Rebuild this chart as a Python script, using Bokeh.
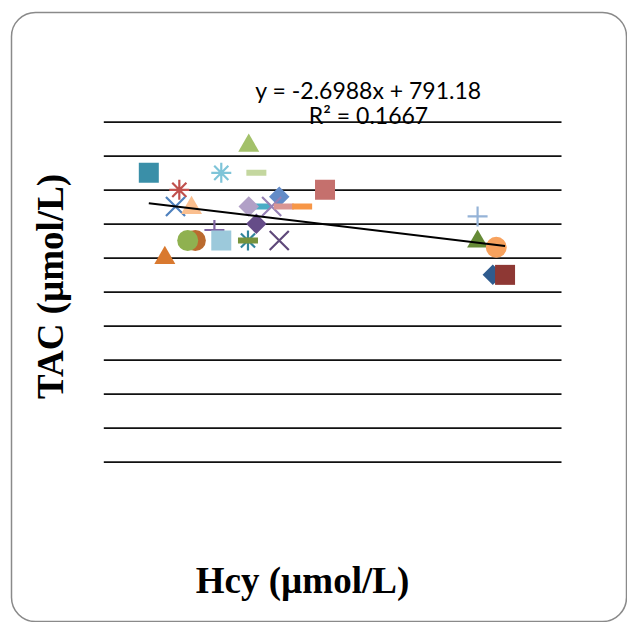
import math
from bokeh.plotting import figure
from bokeh.models import Range1d, Label, BoxAnnotation
from bokeh.embed import file_html
from bokeh.resources import INLINE

# ---- data (Hcy in umol/L, TAC in umol/L), one entry per plotted series ----
hcy = [24.0, 10.9, 20.4, 25.0, 14.9, 14.4, 16.5, 34.0, 28.0, 25.5,
       24.0, 27.0, 28.6, 31.0, 25.0, 19.5, 17.0, 16.0, 20.4, 23.9,
       23.9, 28.0, 13.0, 54.0, 54.0, 56.45, 56.0, 57.6]
tac = [931, 851, 851, 851, 801, 752, 748, 801, 781, 752,
       752, 752, 752, 752, 701, 683, 652, 652, 652, 652,
       652, 652, 601, 723, 649, 632, 551, 551]

# styles
markers = ["triangle", "square", "asterisk", "dash", "asterisk", "x", "triangle", "square", "diamond", "dash",
           "diamond", "x", "dash", "dash", "diamond", "cross", "circle", "circle", "square", "asterisk",
           "dash", "x", "triangle", "cross", "triangle", "circle", "diamond", "square"]
colors = ["#A3C16A", "#3A8FA8", "#7EC4D8", "#C4D79F", "#C0504D", "#4F81BD", "#FABF8F", "#C5706D", "#638CC8", "#4BACC6",
          "#B1A0C7", "#9580B5", "#D99694", "#F79646", "#654C88", "#8064A2", "#BA6A2E", "#8FB150", "#9CC9DB", "#31859C",
          "#77933C", "#604A7B", "#D9792F", "#95B3D7", "#658A36", "#F7A25E", "#2F5B8E", "#8E3834"]

slope = -2.6988
intercept = 791.18
r2 = 0.1667
x_min, x_max = 5, 65
grid_ticks = [0, 100, 200, 300, 400, 500, 600, 700, 800, 900, 1000]

# plot-area geometry (pixels in canvas) used to derive the data ranges of the full canvas
W, H = 627, 622
PA_L, PA_R, PA_T, PA_B = 103.3, 561.0, 121.7, 461.7
kx = (PA_R - PA_L) / (x_max - x_min)
ky = (PA_B - PA_T) / (grid_ticks[-1] - grid_ticks[0])
xs = x_min - PA_L / kx
ys_top = grid_ticks[-1] + PA_T / ky
p = figure(frame_width=W, frame_height=H,
           x_range=Range1d(xs, xs + W / kx), y_range=Range1d(ys_top - H / ky, ys_top),
           output_backend="svg", toolbar_location=None, min_border=0)
p.xaxis.visible = False
p.yaxis.visible = False
p.xgrid.visible = False
p.ygrid.visible = False
p.outline_line_color = None
p.background_fill_color = "white"
p.border_fill_color = "white"

# horizontal gridlines across the plot area
p.segment(x0=[x_min] * len(grid_ticks), x1=[x_max] * len(grid_ticks), y0=grid_ticks, y1=grid_ticks,
          line_color="#111111", line_width=1.7)

for xv, yv, m, c in zip(hcy, tac, markers, colors):
    if m == "dash":
        p.rect(x=[xv], y=[yv], width=20, height=6, width_units="screen", height_units="screen",
               fill_color=c, line_color=None)
    elif m == "diamond":
        p.scatter(x=[xv], y=[yv], marker="square", angle=math.pi / 4, size=14.5,
                  fill_color=c, line_color=None)
    elif m == "square":
        p.scatter(x=[xv], y=[yv], marker="square", size=20, fill_color=c, line_color=None)
    elif m == "circle":
        p.scatter(x=[xv], y=[yv], marker="circle", size=21, fill_color=c, line_color=None)
    elif m == "triangle":
        p.scatter(x=[xv], y=[yv], marker="triangle", size=21, fill_color=c, line_color=None)
    elif m == "x":
        p.scatter(x=[xv], y=[yv], marker="x", size=27, line_color=c, line_width=2.2)
    else:
        p.scatter(x=[xv], y=[yv], marker=m, size=20, line_color=c, line_width=2.2)

# linear trendline over the data range
x0, x1 = min(hcy), max(hcy)
p.line([x0, x1], [slope * x0 + intercept, slope * x1 + intercept], line_color="black", line_width=2)

eq_font = "Lato"
p.add_layout(Label(x=39.7, y=1096, text="y = %.4fx + %.2f" % (slope, intercept),
                   text_align="center", text_baseline="alphabetic",
                   text_font=eq_font, text_font_size="23px", text_color="black"))
p.add_layout(Label(x=39.7, y=1020, text="R\u00b2 = %.4f" % r2,
                   text_align="center", text_baseline="alphabetic",
                   text_font=eq_font, text_font_size="23px", text_color="black"))

lab_font = "Liberation Serif"
p.add_layout(Label(x=31.05, y=-348, text="Hcy (\u00b5mol/L)", text_align="center", text_baseline="middle",
                   text_font=lab_font, text_font_size="37px", text_font_style="bold", text_color="black"))
p.add_layout(Label(x=-2.0, y=517, text="TAC (\u00b5mol/L)", angle=math.pi / 2,
                   text_align="center", text_baseline="middle",
                   text_font=lab_font, text_font_size="37px", text_font_style="bold", text_color="black"))

# rounded chart-area border
p.add_layout(BoxAnnotation(left=xs + 11 / kx, right=xs + 626 / kx,
                           top=ys_top - 12 / ky, bottom=ys_top - 621 / ky,
                           border_radius=24, fill_alpha=0, line_color="#8A8A8A", line_width=1.5, line_alpha=1))

open("out.html", "w").write(file_html(p, INLINE))
